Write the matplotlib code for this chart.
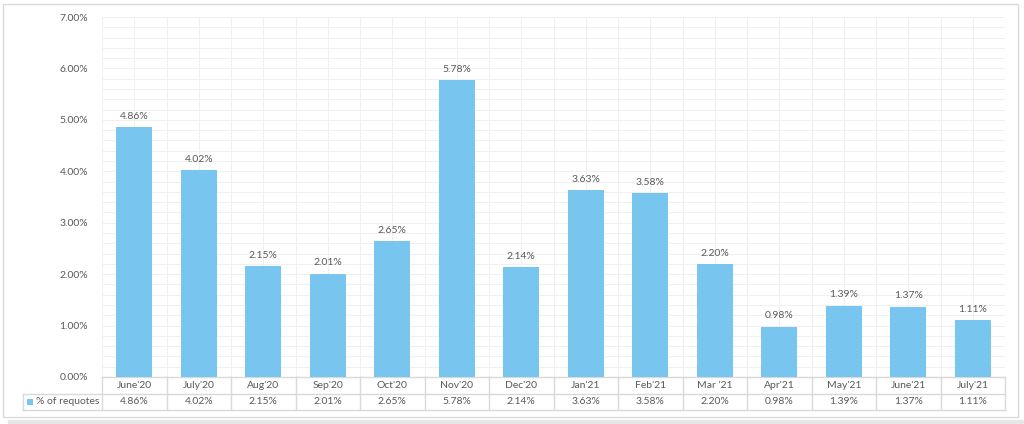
import numpy as np
import matplotlib
matplotlib.use("Agg")
import matplotlib.pyplot as plt
import matplotlib.patches as patches
import matplotlib.transforms as mtransforms
from matplotlib.ticker import MultipleLocator, FuncFormatter

months = ["June'20", "July'20", "Aug'20", "Sep'20", "Oct'20", "Nov'20", "Dec'20",
          "Jan'21", "Feb'21", "Mar '21", "Apr'21", "May'21", "June'21", "July'21"]
requotes = [4.86, 4.02, 2.15, 2.01, 2.65, 5.78, 2.14,
            3.63, 3.58, 2.20, 0.98, 1.39, 1.37, 1.11]
series_name = "% of requotes"

bar_color = "#78C5EF"
text_color = "#595959"
line_color = "#D9D9D9"
grid_color = "#F0F0F0"

plt.rcParams['font.family'] = ['Lato', 'DejaVu Sans']

W, H = 1024, 424
fig = plt.figure(figsize=(W / 100, H / 100), dpi=100)

# outer frame of the chart area
fig.patches.append(patches.Rectangle((3 / W, 1 - 417 / H), 1015 / W, 413 / H,
                                     transform=fig.transFigure, fill=False,
                                     edgecolor="#DADADA", linewidth=1))
fig.patches.append(patches.Rectangle((8 / W, 0), 1016 / W, 4 / H,
                                     transform=fig.transFigure,
                                     facecolor="#E6E6E6", edgecolor="none"))

left, right, top, bottom = 102, 1005, 17, 377
ax = fig.add_axes([left / W, 1 - bottom / H, (right - left) / W, (bottom - top) / H])

x = np.arange(len(months))
ax.bar(x, requotes, width=0.56, color=bar_color, zorder=3)
for xi, v in zip(x, requotes):
    ax.text(xi, v + 0.12, f"{v:.2f}%", ha="center", va="bottom",
            fontsize=7.5, color=text_color)

ax.set_xlim(-0.5, len(months) - 0.5)
ax.set_ylim(0, 7)
ax.yaxis.set_major_locator(MultipleLocator(1))
ax.yaxis.set_minor_locator(MultipleLocator(0.2))
ax.yaxis.set_major_formatter(FuncFormatter(lambda v, p: f"{v:.2f}%"))
ax.set_xticks(np.arange(-0.5, len(months), 1.0))
ax.set_xticks(x, minor=True)
ax.set_xticklabels([])
ax.tick_params(axis="y", which="both", length=0, pad=10, labelsize=7.5, labelcolor=text_color)
ax.tick_params(axis="x", which="both", length=0)
ax.grid(True, which="both", color=grid_color, linewidth=0.8, zorder=0)
for s in ax.spines.values():
    s.set_visible(False)

# data table under the plot
trans = mtransforms.blended_transform_factory(ax.transData, ax.transAxes)
row_h = 16.5 / (bottom - top)
leg_left = (23 - left) / (right - left)

ax.plot([-0.5, len(months) - 0.5], [0, 0], transform=trans, color=line_color,
        linewidth=1, clip_on=False)
for r in (1, 2):
    ax.plot([leg_left, 1], [-r * row_h, -r * row_h], transform=ax.transAxes,
            color=line_color, linewidth=1, clip_on=False)
for b in np.arange(-0.5, len(months), 1.0):
    ax.plot([b, b], [0, -2 * row_h], transform=trans, color=line_color,
            linewidth=1, clip_on=False)
ax.plot([leg_left, leg_left], [-row_h, -2 * row_h], transform=ax.transAxes,
        color=line_color, linewidth=1, clip_on=False)

for xi, m, v in zip(x, months, requotes):
    ax.text(xi, -0.5 * row_h, m, transform=trans, ha="center", va="center",
            fontsize=7.5, color=text_color)
    ax.text(xi, -1.5 * row_h, f"{v:.2f}%", transform=trans, ha="center",
            va="center", fontsize=7.5, color=text_color)

sq = 6 / (right - left)
ax.add_patch(patches.Rectangle(((27 - left) / (right - left), -1.5 * row_h - 3 / (bottom - top)),
                               sq, 6 / (bottom - top), transform=ax.transAxes,
                               facecolor=bar_color, edgecolor="none", clip_on=False))
ax.text((36 - left) / (right - left), -1.5 * row_h, series_name, transform=ax.transAxes,
        ha="left", va="center", fontsize=7.5, color=text_color)

fig.savefig("out.png", dpi=100)
